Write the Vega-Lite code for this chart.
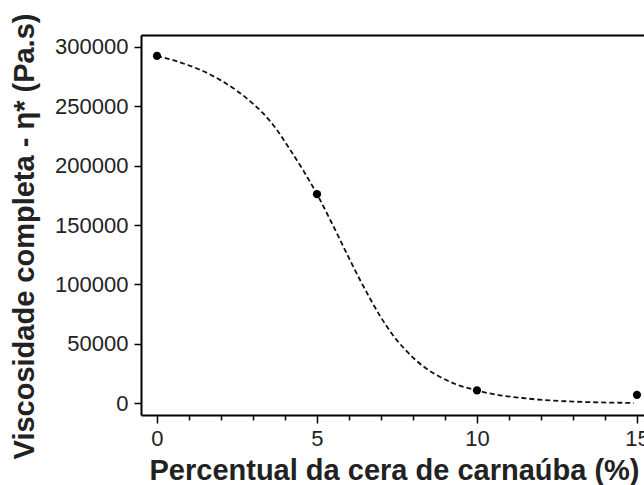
{
  "$schema": "https://vega.github.io/schema/vega-lite/v6.json",
  "width": 503,
  "height": 380,
  "autosize": {"type": "none"},
  "padding": {"left": 141, "top": 35, "right": 0, "bottom": 70},
  "background": "white",
  "config": {
    "view": {"stroke": null},
    "font": "Liberation Sans",
    "axis": {"grid": false, "domainColor": "#000", "domainWidth": 2, "tickColor": "#000", "tickWidth": 1.5, "labelColor": "#222", "titleColor": "#222", "labelFont": "Liberation Sans", "titleFont": "Liberation Sans"}
  },
  "datasets": {
    "points": [
      {"x": 0, "y": 292400},
      {"x": 5, "y": 176000},
      {"x": 10, "y": 10800},
      {"x": 15, "y": 7000}
    ],
    "curve": [
      {"x": 0, "y": 292400},
      {"x": 0.42, "y": 289500},
      {"x": 0.94, "y": 284900},
      {"x": 1.45, "y": 279500},
      {"x": 1.98, "y": 272000},
      {"x": 2.5, "y": 263000},
      {"x": 2.92, "y": 254000},
      {"x": 3.32, "y": 244000},
      {"x": 3.75, "y": 230000},
      {"x": 4.17, "y": 213000},
      {"x": 4.57, "y": 196000},
      {"x": 5, "y": 176000},
      {"x": 5.42, "y": 154000},
      {"x": 5.73, "y": 137000},
      {"x": 6.04, "y": 120000},
      {"x": 6.35, "y": 103500},
      {"x": 6.67, "y": 87500},
      {"x": 6.98, "y": 73000},
      {"x": 7.38, "y": 57000},
      {"x": 7.81, "y": 43500},
      {"x": 8.32, "y": 31000},
      {"x": 8.85, "y": 22000},
      {"x": 9.38, "y": 15500},
      {"x": 10, "y": 10800},
      {"x": 10.31, "y": 8700},
      {"x": 11.56, "y": 3900},
      {"x": 13.1, "y": 1200},
      {"x": 14.9, "y": 200}
    ]
  },
  "layer": [
    {
      "data": {"name": "curve"},
      "mark": {"type": "line", "interpolate": "monotone", "strokeDash": [5, 3], "strokeWidth": 1.8, "color": "#111", "clip": true},
      "encoding": {
        "x": {
          "field": "x", "type": "quantitative",
          "scale": {"domain": [-0.5, 15.22], "nice": false, "zero": false},
          "axis": {
            "orient": "bottom",
            "title": "Percentual da cera de carnaúba (%)",
            "values": [0, 1, 2, 3, 4, 5, 6, 7, 8, 9, 10, 11, 12, 13, 14, 15],
            "labelExpr": "datum.value % 5 === 0 ? datum.label : ''",
            "tickSize": {"condition": {"test": "datum.value % 5 === 0", "value": 8}, "value": 5},
            "labelFontSize": 22,
            "labelPadding": 5,
            "labelFlush": false,
            "labelOverlap": false,
            "titleFontSize": 29,
            "titleFontWeight": "bold",
            "titleX": 253,
            "titleY": 64,
            "titleAlign": "center",
            "titleBaseline": "alphabetic",
            "titleAnchor": null
          }
        },
        "y": {
          "field": "y", "type": "quantitative",
          "scale": {"domain": [-10000, 310000], "nice": false, "zero": false},
          "axis": {
            "title": "Viscosidade completa - η* (Pa.s)",
            "values": [0, 25000, 50000, 75000, 100000, 125000, 150000, 175000, 200000, 225000, 250000, 275000, 300000],
            "format": "d",
            "labelExpr": "datum.value % 50000 === 0 ? datum.label : ''",
            "tickSize": {"condition": {"test": "datum.value % 50000 === 0", "value": 7}, "value": 4},
            "labelFontSize": 22,
            "labelPadding": 6,
            "labelOverlap": false,
            "titleFontSize": 29,
            "titleFontWeight": "bold",
            "titleAngle": -90,
            "titleX": -108,
            "titleY": 201,
            "titleAlign": "center",
            "titleBaseline": "alphabetic"
          }
        }
      }
    },
    {
      "data": {"name": "points"},
      "mark": {"type": "circle", "size": 68, "color": "#000", "opacity": 1},
      "encoding": {
        "x": {
          "field": "x", "type": "quantitative",
          "axis": {"orient": "top", "labels": false, "ticks": false, "title": null, "domainColor": "#000", "domainWidth": 2}
        },
        "y": {"field": "y", "type": "quantitative"}
      }
    }
  ],
  "resolve": {"axis": {"x": "independent"}}
}
